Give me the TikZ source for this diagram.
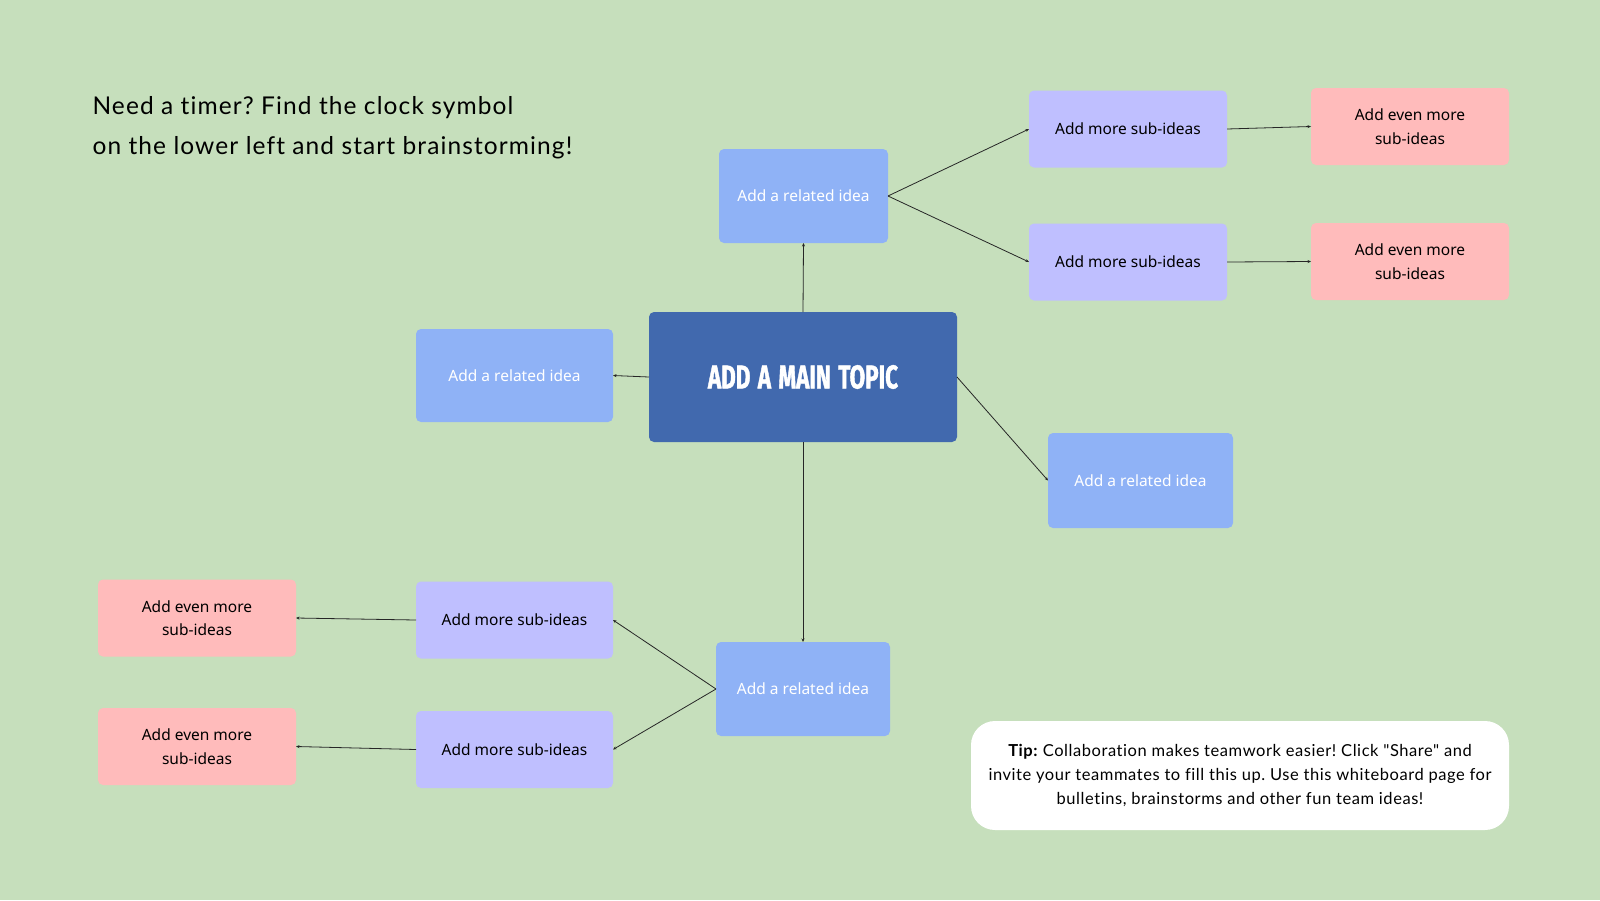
\documentclass[tikz,border=0pt]{standalone}
\usepackage{fontspec}
\setmainfont{Lato}[Ligatures=NoCommon]
\newfontfamily\headfont{Lato}[LetterSpace=4.5,Ligatures=NoCommon]
\newfontfamily\tipfont{Lato}[LetterSpace=3.4,Ligatures=NoCommon]
\newfontfamily\boxfont{Noto Sans}
\newfontfamily\topicfont{Fira Sans}[FakeStretch=0.68,FakeBold=1.2,WordSpace=1.4]
\usetikzlibrary{arrows.meta}
\definecolor{bgc}{RGB}{198,223,188}
\definecolor{mainc}{RGB}{65,105,174}
\definecolor{relc}{RGB}{143,178,246}
\definecolor{subc}{RGB}{191,191,255}
\definecolor{redc}{RGB}{255,187,187}
\frenchspacing
\begin{document}
\begin{tikzpicture}[x=1pt,y=-1pt,
  box/.style={rectangle,rounded corners=5pt,inner sep=0pt,outer sep=0pt,align=center,font=\boxfont\fontsize{15.5}{23.5}\selectfont},
  maintopic/.style={box,fill=mainc,minimum width=308pt,minimum height=130pt,text=white,font=\topicfont\bfseries\fontsize{33}{36}\selectfont},
  related/.style={box,fill=relc,text=white},
  subidea/.style={box,fill=subc,text=black,minimum width=198pt,minimum height=77pt},
  moreidea/.style={box,fill=redc,text=black,minimum width=198pt,minimum height=77pt},
  conn/.style={draw=black!85,line width=0.8pt,-{Stealth[length=3.5pt,width=3pt]}}
]
\useasboundingbox (0,0) rectangle (1600,900);
\fill[bgc] (0,0) rectangle (1600,900);

\node[anchor=west,align=left,font=\headfont\fontsize{24.5}{40}\selectfont] (head) at (89,128)
  {Need a timer? Find the clock symbol\\on the lower left and start brainstorming!};

\node[maintopic] (main) at (803,377) {ADD A MAIN TOPIC};
\node[related,minimum width=169pt,minimum height=94pt] (topR) at (803.5,196) {Add a related idea};
\node[related,minimum width=197pt,minimum height=93pt] (leftR) at (514.5,375.5) {Add a related idea};
\node[related,minimum width=185pt,minimum height=95pt] (rightR) at (1140.5,480.5) {Add a related idea};
\node[related,minimum width=174pt,minimum height=94pt] (botR) at (803,689) {Add a related idea};

\node[subidea] (sub1) at (1128,129) {Add more sub-ideas};
\node[subidea] (sub2) at (1128,262) {Add more sub-ideas};
\node[moreidea] (red1) at (1410,126.5) {Add even more\\sub-ideas};
\node[moreidea] (red2) at (1410,261.5) {Add even more\\sub-ideas};

\node[subidea,minimum width=197pt] (bsub1) at (514.5,620) {Add more sub-ideas};
\node[subidea,minimum width=197pt] (bsub2) at (514.5,749.5) {Add more sub-ideas};
\node[moreidea] (bred1) at (197,618) {Add even more\\sub-ideas};
\node[moreidea] (bred2) at (197,746.5) {Add even more\\sub-ideas};

\node[rectangle,rounded corners=24pt,fill=white,minimum width=538pt,minimum height=109pt,inner sep=0pt,align=center,font=\tipfont\fontsize{16.5}{24}\selectfont] (tip) at (1240,775.5)
  {\textbf{Tip:} Collaboration makes teamwork easier! Click \symbol{34}Share\symbol{34} and\\invite your teammates to fill this up. Use this whiteboard page for\\bulletins, brainstorms and other fun team ideas!};

\draw[conn] (main.north) -- (topR.south);
\draw[conn] (main.west) -- (leftR.east);
\draw[conn] (main.east) -- (rightR.west);
\draw[conn] (main.south) -- (botR.north);
\draw[conn] (topR.east) -- (sub1.west);
\draw[conn] (topR.east) -- (sub2.west);
\draw[conn] (sub1.east) -- (red1.west);
\draw[conn] (sub2.east) -- (red2.west);
\draw[conn] (botR.west) -- (bsub1.east);
\draw[conn] (botR.west) -- (bsub2.east);
\draw[conn] (bsub1.west) -- (bred1.east);
\draw[conn] (bsub2.west) -- (bred2.east);
\end{tikzpicture}
\end{document}
